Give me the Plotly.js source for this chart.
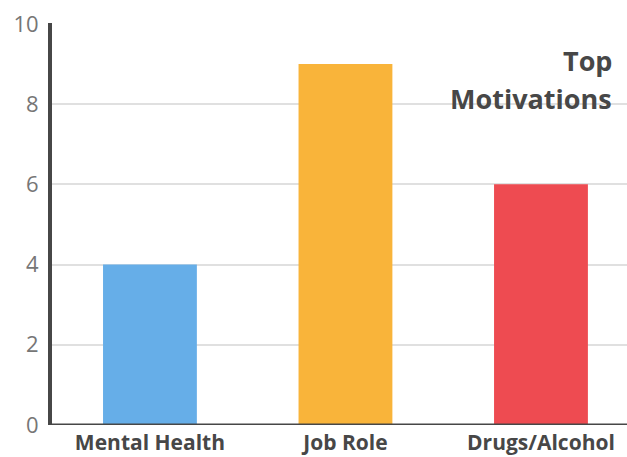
<!DOCTYPE html>
<html>
<head>
<meta charset="utf-8">
<script src="https://cdn.plot.ly/plotly-3.0.1.min.js"></script>
<style>
  html, body { margin: 0; padding: 0; background: #ffffff; }
  #chart { width: 627px; height: 457px; }
</style>
</head>
<body>
<div id="chart"></div>
<script>
// Survey: top motivations
const categories = ['Mental Health', 'Job Role', 'Drugs/Alcohol'];
const counts = [4, 9, 6];
const barColors = ['#66aee8', '#f9b43a', '#ee4b51'];
const yTicks = [0, 2, 4, 6, 8, 10];
const titleLines = ['Top', 'Motivations'];

const trace = {
  type: 'bar',
  x: categories,
  y: counts,
  width: 0.48,
  marker: { color: barColors, line: { width: 0 } },
  hoverinfo: 'x+y'
};

// Chart heading sits inside the plot, right-aligned, one annotation per line
const titleY = [0.958, 0.863];
const annotations = titleLines.map((line, i) => ({
  xref: 'paper', yref: 'paper',
  x: 0.978, y: titleY[i],
  xanchor: 'right', yanchor: 'top',
  align: 'right',
  showarrow: false,
  text: '<b>' + line + '</b>',
  font: { family: '"Open Sans", sans-serif', size: 27, color: '#474747' }
}));

const layout = {
  width: 627,
  height: 457,
  margin: { l: 52, r: 0, t: 23, b: 32 },
  paper_bgcolor: '#ffffff',
  plot_bgcolor: '#ffffff',
  showlegend: false,
  font: { family: '"Open Sans", sans-serif', color: '#444444' },
  xaxis: {
    range: [-0.501, 2.44],
    showgrid: false,
    zeroline: false,
    showline: false,
    ticks: '',
    ticklabelstandoff: 3,
    tickfont: { family: '"Open Sans", sans-serif', size: 21, color: '#474747', weight: 'bold' },
    automargin: false
  },
  yaxis: {
    range: [0, 10.02],
    tickvals: yTicks,
    ticktext: yTicks.map(String),
    showgrid: true,
    gridcolor: '#e0e0e0',
    gridwidth: 2,
    zeroline: false,
    showline: true,
    linecolor: '#474747',
    linewidth: 4,
    ticks: '',
    ticklabelstandoff: 5,
    tickfont: { family: '"Open Sans", sans-serif', size: 22, color: '#767676' },
    automargin: false
  },
  shapes: [{
    type: 'line', xref: 'paper', yref: 'y',
    x0: -0.004, x1: 1, y0: 0, y1: 0,
    line: { color: '#474747', width: 3 }
  }],
  annotations: annotations
};

Plotly.newPlot('chart', [trace], layout, { displayModeBar: false, staticPlot: true });
</script>
</body>
</html>
